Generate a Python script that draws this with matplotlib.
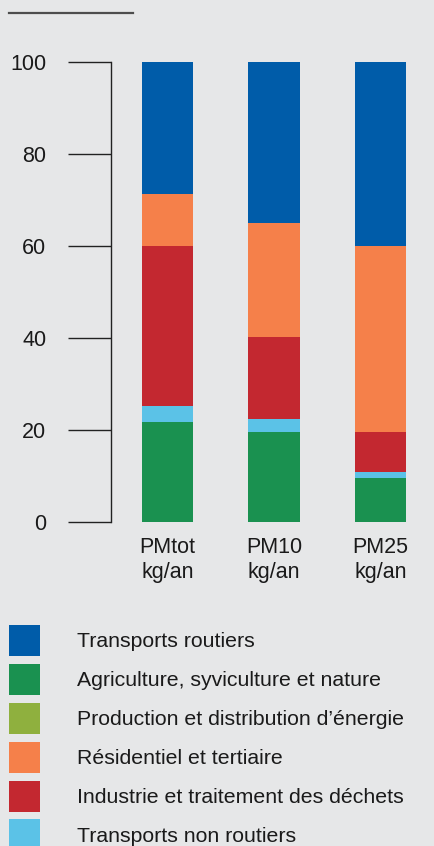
import matplotlib
matplotlib.use("Agg")
import matplotlib.pyplot as plt
from matplotlib.lines import Line2D
import numpy as np

plt.rcParams['font.family'] = ['Liberation Sans', 'DejaVu Sans']

categories = ["PMtot\nkg/an", "PM10\nkg/an", "PM25\nkg/an"]
# stack order bottom -> top
agriculture = [21.8, 19.6, 9.6]
transports_non_routiers = [3.5, 2.8, 1.3]
industrie = [34.6, 17.9, 8.7]
energie = [0.0, 0.0, 0.0]
residentiel = [11.3, 24.6, 40.5]
transports_routiers = [28.8, 35.1, 39.9]
yticks = [0, 20, 40, 60, 80, 100]

labels = {
    "routiers": "Transports routiers",
    "agri": "Agriculture, syviculture et nature",
    "energie": "Production et distribution d\u2019énergie",
    "resid": "Résidentiel et tertiaire",
    "indus": "Industrie et traitement des déchets",
    "nonrout": "Transports non routiers",
}
colors = {
    "routiers": "#005ca9",
    "agri": "#1a9150",
    "energie": "#8fb03e",
    "resid": "#f5804a",
    "indus": "#c32830",
    "nonrout": "#5bc2e7",
}

bg = "#e6e7e8"
W, H = 435, 846
fig = plt.figure(figsize=(W / 100, H / 100), dpi=100, facecolor=bg)
ax = fig.add_axes([111 / W, 1 - 522 / H, 1 - 111 / W, (522 - 62) / H])
ax.set_facecolor(bg)

x = np.arange(len(categories))
bw = 0.48
stack = [("agri", agriculture), ("nonrout", transports_non_routiers),
         ("indus", industrie), ("energie", energie),
         ("resid", residentiel), ("routiers", transports_routiers)]
bottom = np.zeros(len(categories))
handles = {}
for key, vals in stack:
    vals = np.array(vals)
    b = ax.bar(x, vals, bw, bottom=bottom, color=colors[key],
               label=labels[key], linewidth=0)
    handles[key] = b
    bottom += vals

ax.set_xlim(-0.53, 2.51)
ax.set_ylim(0, 100)
ax.set_yticks(yticks)
ax.set_xticks(x)
ax.set_xticklabels(categories, fontsize=15.5, color="#1a1a1a", linespacing=1.25)
for s in ["top", "right", "bottom"]:
    ax.spines[s].set_visible(False)
ax.spines["left"].set_color("#222222")
ax.spines["left"].set_linewidth(1.0)
ax.tick_params(axis="y", direction="out", length=31, width=1.0, color="#222222",
               pad=15.5, labelsize=15.5, labelcolor="#1a1a1a")
ax.tick_params(axis="x", length=0, pad=11)

# top decorative rule
fig.add_artist(Line2D([9 / W, 133 / W], [1 - 13.5 / H, 1 - 13.5 / H],
                      color="#4d4d4d", linewidth=1.6, transform=fig.transFigure))

order = ["routiers", "agri", "energie", "resid", "indus", "nonrout"]
leg = fig.legend([handles[k] for k in order], [labels[k] for k in order],
                 loc="upper left", bbox_to_anchor=(9 / W, 1 - 625 / H),
                 frameon=False, fontsize=15.3, borderpad=0, borderaxespad=0,
                 handlelength=1.46, handleheight=1.87, handletextpad=1.74,
                 labelspacing=0.37)
for t in leg.get_texts():
    t.set_color("#1a1a1a")

fig.savefig("out.png", dpi=100, facecolor=bg)
